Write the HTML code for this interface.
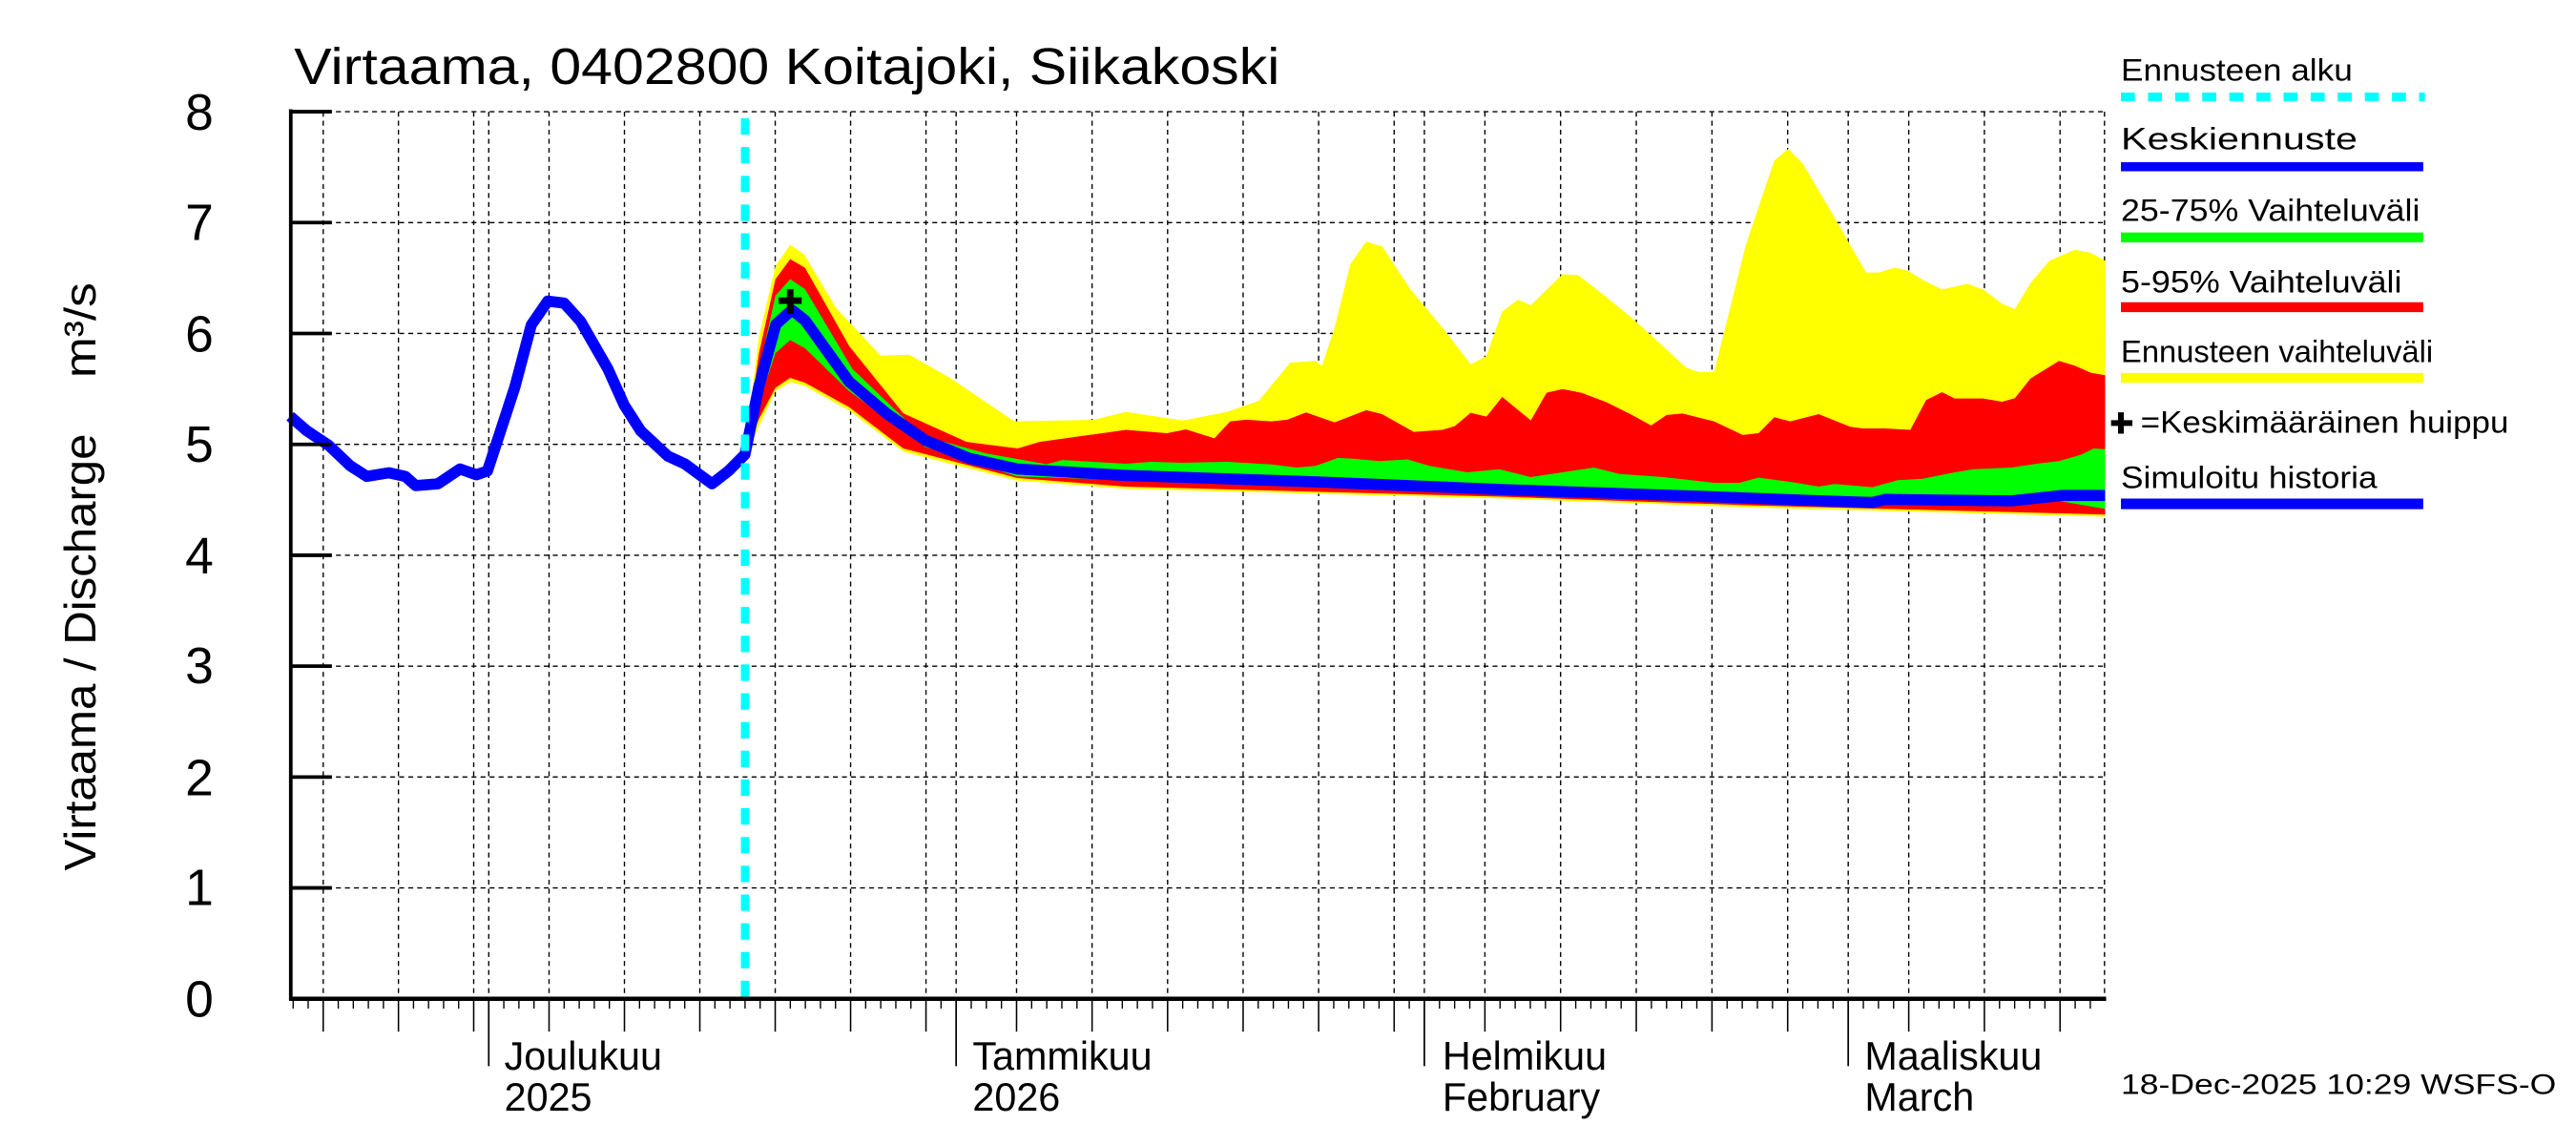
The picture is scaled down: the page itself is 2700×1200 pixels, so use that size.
<!DOCTYPE html>
<html><head><meta charset="utf-8"><style>
html,body{margin:0;padding:0;background:#fff;}
svg{display:block;}
text{font-family:"Liberation Sans",sans-serif;fill:#000;}
</style></head><body>
<svg id="s" width="2700" height="1200" viewBox="0 0 1568 697" preserveAspectRatio="none" xmlns="http://www.w3.org/2000/svg">
<rect x="0" y="0" width="1568" height="697" fill="#fff"/>
<g id="grid" stroke="#000" stroke-width="0.8" stroke-dasharray="3,2.5" fill="none"></g>
<polygon fill="#ffff00" points="453,277 462,205 472,162 481,149 489.6,155 509,187.6 536,216.4 553.5,215.9 578.8,230.4 617.4,256.5 666,255.5 685.3,250.7 720,256 747,250.7 766.2,244 785.4,220.7 800.8,219.7 804.7,222.6 812.4,199.4 822,160.7 831.6,147.1 841.3,150 858.6,176.2 877.9,199.4 895.2,221.7 904.8,216.8 914.4,189.7 924,182.4 931.8,185.9 951,166.9 960.6,167.5 978,181 993.4,193.6 1012.6,211 1026.1,223.6 1033.8,226.5 1043.4,226.5 1062.7,149.1 1080,97.8 1088.5,90.6 1097.4,99.7 1112.8,125.8 1126.2,149.1 1135.9,165.9 1143.6,165.9 1153.2,163 1160.9,164.6 1170.5,170.4 1182.1,176.2 1197.5,172.7 1207.1,176.2 1218.7,184.9 1226.4,188.2 1236,172.3 1247.5,158.7 1263,152 1272.6,153.9 1281.4,158.7 1281.4,314.5 1070,309 916,303.5 685,297.5 619,292.5 550,275 517,250 490,235 481,232.5 472,238 453,279"/>
<polygon fill="#ff0000" points="453,277 462,215 472,170 481,157.7 490,163 517,210.8 549.8,251.6 588.4,269 619.4,273 632.7,269 685.3,261.7 710.3,263.7 721.9,261.4 739.2,266.8 748.8,256.5 758.5,255.5 773.9,256.5 783.5,255.5 795,251.1 812.4,257.1 831.6,249.7 841.3,252.1 860.5,262.9 877.9,261.7 885.5,259.4 895.2,251.3 904.8,253.6 914.4,241.6 931.8,255.9 941.4,239.1 951,236.8 962.6,239.1 978,244.9 993.4,252.6 1005,259 1014.6,252.6 1024.2,251.7 1043.4,256.5 1060.8,264.8 1070.4,263.7 1080,254 1089.7,256.5 1107,252.1 1126.2,259.8 1133.9,260.8 1147.4,260.8 1162.8,261.7 1172.4,243.5 1182.1,238.7 1189.8,242.6 1207.1,242.6 1218.7,244.5 1226.4,242.4 1236,230.4 1253.3,219.7 1263,222.6 1272.6,226.9 1281.4,228.4 1281.4,313.2 1070,307.8 916,302.4 685,296.2 619.4,291 549.8,273 516.8,247.8 490,233 481,230 472,236 462,255 453,278"/>
<polygon fill="#00ff00" points="455,270 462,225 472,180 481,170 490,176 518.8,224.5 561.4,265.2 600,276 637,282.6 646.7,280 685.3,282.3 700.7,281.1 720,281.7 747,281.1 773.9,282.7 789.3,284.6 800.8,283.6 814.3,278.8 823.9,279.2 839.3,280.7 856.7,279.7 870.1,283.6 893.3,287.5 912.5,285.6 931.8,290.4 954.9,286.9 970.3,284.6 985.7,288.5 1012.6,290.4 1043.4,293.9 1058.8,293.9 1070.4,290.8 1089.7,293.3 1107,296.2 1116.6,294.6 1139.7,296.6 1155.1,292.3 1170.5,291.4 1189.8,287.5 1201.3,285.6 1224.4,284.6 1239.8,282.3 1253.3,280.7 1266.8,276.8 1274.5,273 1281.4,273.4 1281.4,309.8 1253,304.9 1147,306.8 1000,304 916,301 800,295 685,292.3 619,290 563,272 516.8,238 490,212 481,207 472,215 462,245"/>
<polyline fill="none" stroke="#0000ff" stroke-width="6.8" stroke-linejoin="round" points="176.6,253.4 186.7,262.2 200,271 213,283.4 223.3,290 236.7,287.8 246.7,290 253,295.6 266.6,294.5 280,285.5 290,289 296.7,286.7 313.4,235.6 323.4,197.8 333.4,183.3 343.4,184.5 353.4,195.6 370,224.5 380,246.7 390,262.3 406.6,277.7 416.7,282.3 433.4,294.5 443.4,286.7 453.4,276.7 462,235 472.3,197.4 482,188.7 490,195 516.8,232.3 540,252 563.3,268 590,279 619.4,285.5 685,289.4 800.8,293.3 916.4,298.1 1031.9,302 1109,304.9 1139.7,305.9 1147.4,304 1224.4,304.9 1255.3,301.6 1281.4,301.6"/>
<line x1="453.5" y1="72" x2="453.5" y2="608" stroke="#00ffff" stroke-width="5" stroke-dasharray="10,7.5"/>
<path d="M481,176 V191 M474,183 H488" stroke="#000" stroke-width="4" fill="none"/>
<g id="axes" stroke="#000" fill="none"></g>
<line x1="177" y1="66.5" x2="177" y2="609" stroke="#000" stroke-width="2.2"/>
<line x1="176" y1="608" x2="1282" y2="608" stroke="#000" stroke-width="2.6"/>
<text x="179" y="51" font-size="31" textLength="600" lengthAdjust="spacingAndGlyphs">Virtaama, 0402800 Koitajoki, Siikakoski</text>
<g font-size="31" text-anchor="end">
<text x="130" y="79">8</text><text x="130" y="146">7</text><text x="130" y="214">6</text><text x="130" y="281">5</text>
<text x="130" y="349">4</text><text x="130" y="416">3</text><text x="130" y="484">2</text><text x="130" y="551">1</text><text x="130" y="619">0</text>
</g>
<text transform="translate(58,530) rotate(-90)" font-size="27" textLength="266" lengthAdjust="spacingAndGlyphs">Virtaama / Discharge</text>
<text transform="translate(58,230) rotate(-90)" font-size="27" textLength="58" lengthAdjust="spacingAndGlyphs">m³/s</text>
<g font-size="24">
<text x="307" y="651">Joulukuu</text><text x="307" y="676">2025</text>
<text x="592" y="651">Tammikuu</text><text x="592" y="676">2026</text>
<text x="878" y="651">Helmikuu</text><text x="878" y="676">February</text>
<text x="1135" y="651">Maaliskuu</text><text x="1135" y="676">March</text>
</g>
<g font-size="19">
<text x="1291" y="49" textLength="141" lengthAdjust="spacingAndGlyphs">Ennusteen alku</text>
<text x="1291" y="91" textLength="144" lengthAdjust="spacingAndGlyphs">Keskiennuste</text>
<text x="1291" y="134.5" textLength="182" lengthAdjust="spacingAndGlyphs">25-75% Vaihteluväli</text>
<text x="1291" y="178" textLength="171" lengthAdjust="spacingAndGlyphs">5-95% Vaihteluväli</text>
<text x="1291" y="220.5" textLength="190" lengthAdjust="spacingAndGlyphs">Ennusteen vaihteluväli</text>
<text x="1303" y="263.5" textLength="224" lengthAdjust="spacingAndGlyphs">=Keskimääräinen huippu</text>
<text x="1291" y="297" textLength="156" lengthAdjust="spacingAndGlyphs">Simuloitu historia</text>
</g>
<line x1="1291" y1="59" x2="1476" y2="59" stroke="#00ffff" stroke-width="5.3" stroke-dasharray="8.5,8"/>
<line x1="1291" y1="101.5" x2="1475" y2="101.5" stroke="#0000ff" stroke-width="5.5"/>
<line x1="1291" y1="144.5" x2="1475" y2="144.5" stroke="#00ff00" stroke-width="6"/>
<line x1="1291" y1="187" x2="1475" y2="187" stroke="#ff0000" stroke-width="6"/>
<line x1="1291" y1="230" x2="1475" y2="230" stroke="#ffff00" stroke-width="6"/>
<line x1="1291" y1="306.7" x2="1475" y2="306.7" stroke="#0000ff" stroke-width="6.5"/>
<path d="M1291,251 V264 M1285,257.5 H1298" stroke="#000" stroke-width="3.5"/>
<text x="1291" y="666" font-size="17" textLength="265" lengthAdjust="spacingAndGlyphs">18-Dec-2025 10:29 WSFS-O</text>
</svg>
<script>
(function(){
var NS="http://www.w3.org/2000/svg";
var grid=document.getElementById("grid"),axes=document.getElementById("axes");
function ln(p,x1,y1,x2,y2,w){var l=document.createElementNS(NS,"line");l.setAttribute("x1",x1);l.setAttribute("y1",y1);l.setAttribute("x2",x2);l.setAttribute("y2",y2);if(w)l.setAttribute("stroke-width",w);p.appendChild(l);}
for(var v=1;v<=8;v++){var y=608-67.5*v;ln(grid,177,y,1281,y);}
ln(grid,1281,68,1281,608);
var months=[[297.5-30*9.16,30,9.16],[297.5,31,(582-297.5)/31],[582,31,(867-582)/31],[867,28,(1125-867)/28],[1125,31,9.21]];
for(var m=0;m<months.length;m++){
 var x0=months[m][0],n=months[m][1],w=months[m][2];
 for(var d=1;d<=n;d++){
  var x=x0+(d-1)*w;
  if(x<177.5||x>1281)continue;
  if(d==1){ln(grid,x,68,x,608);ln(axes,x,608,x,649,1);}
  else if(d%5==0){ln(grid,x,68,x,608);ln(axes,x,608,x,628,0.9);}
  else ln(axes,x,608,x,614,0.8);
 }
}
for(var v=0;v<=8;v++){var y=608-67.5*v;ln(axes,177,y,202,y,2.2);}
})();
</script>
</body></html>
